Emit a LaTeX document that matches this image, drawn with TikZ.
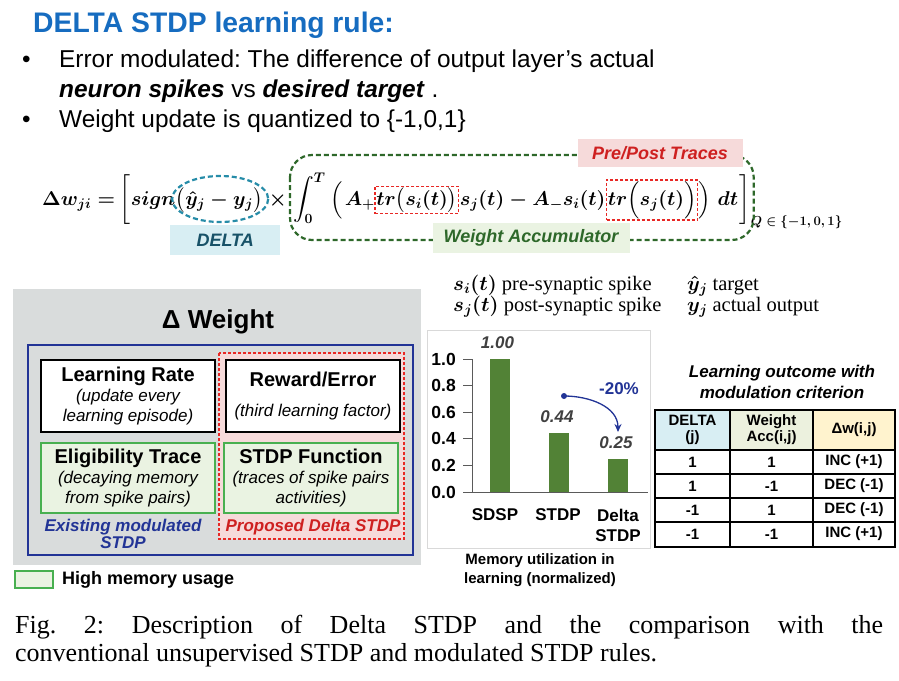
\RequirePackage{fix-cm}
\documentclass[tikz,border=0pt]{standalone}
\usepackage{amsmath}
\usepackage{fontspec}
\setmainfont{Liberation Sans}
\newfontfamily\serifcap{Liberation Serif}
\usetikzlibrary{arrows.meta,positioning,calc,fit}
\definecolor{dsblue}{RGB}{22,108,192}
\definecolor{dsteal}{RGB}{38,140,168}
\definecolor{dsdelta}{RGB}{24,82,104}
\definecolor{dsdeltafill}{RGB}{216,238,243}
\definecolor{dsgreen}{RGB}{46,104,42}
\definecolor{dsgreenfill}{RGB}{234,243,226}
\definecolor{dsred}{RGB}{232,40,36}
\definecolor{dsredtext}{RGB}{206,32,32}
\definecolor{dspink}{RGB}{246,218,218}
\definecolor{dspanel}{RGB}{217,220,220}
\definecolor{dsnavy}{RGB}{34,52,150}
\definecolor{dsmem}{RGB}{72,176,80}
\definecolor{dsbar}{RGB}{82,130,54}
\definecolor{dsaxis}{RGB}{90,90,90}
\definecolor{dsaccfill}{RGB}{236,241,222}
\definecolor{dsdwfill}{RGB}{255,243,206}
\frenchspacing

\begin{document}
\begin{tikzpicture}[x=1pt,y=-1pt,
  eq/.style={anchor=base west, inner sep=0pt, font=\fontsize{20}{24}\selectfont\boldmath},
  tag/.style={inner sep=0pt, font=\fontsize{18}{20}\selectfont\bfseries\itshape},
  line/.style={anchor=base west, inner sep=0pt, font=\fontsize{24.4}{28}\selectfont},
  factor/.style={draw=black, line width=1.8pt, fill=white, minimum width=174pt, minimum height=72pt,
    inner sep=0pt, align=center, font=\fontsize{17}{20}\selectfont\itshape},
  memfactor/.style={factor, draw=dsmem, line width=1.5pt, fill=dsgreenfill, minimum height=70pt},
  tracebox/.style={draw=dsred, line width=1.5pt, dash pattern=on 3pt off 2pt, inner sep=1pt},
  cell/.style={inner sep=0pt, align=center, font=\fontsize{15}{16}\selectfont\bfseries},
  chartlab/.style={inner sep=0pt, align=center, font=\fontsize{17}{20}\selectfont\bfseries},
  serifnote/.style={anchor=base west, inner sep=0pt, font=\serifcap\fontsize{20.5}{22}\selectfont},
]
\useasboundingbox (0,0) rectangle (899,680);

% Heading and bullets
\node[anchor=base west, inner sep=0pt, font=\fontsize{28.3}{32}\selectfont\bfseries, text=dsblue] (head) at (33,32) {DELTA STDP learning rule:};
\node[line] (bul1) at (22,67) {•};
\node[line] (txt1) at (59,67) {Error modulated: The difference of output layer’s actual};
\node[line] (txt2) at (59,97) {\textbf{\textit{neuron spikes}} vs \textbf{\textit{desired target}} .};
\node[line] (bul2) at (22,127) {•};
\node[line] (txt3) at (59,127) {Weight update is quantized to \{-1,0,1\}};

% Equation
\node[eq] (lhs) at (42,205) {$\Delta w_{ji}=$};
\node[eq, base right=4pt of lhs] (lbr) {$\bigg[$};
\node[eq, base right=0pt of lbr] (sgn) {$sign$};
\node[eq, base right=0pt of sgn] (err) {$\bigl(\hat{y}_j-y_j\bigr)$};
\node[eq, base right=6pt of err] (tms) {$\times$};
\node[eq, base right=6pt of tms] (intg) {$\displaystyle\int_0^T$};
\node[eq, base right=4pt of intg] (lpar) {$\Bigl($};
\node[eq, base right=2pt of lpar] (ap) {$A_+$};
\node[eq, base right=1pt of ap] (tri) {$tr\bigl(s_i(t)\bigr)$};
\node[eq, base right=2pt of tri] (mid) {$s_j(t)-A_-s_i(t)$};
\node[eq, base right=2pt of mid] (trj) {$tr\Bigl(s_j(t)\Bigr)$};
\node[eq, base right=2pt of trj] (rpar) {$\Bigr)$};
\node[eq, base right=6pt of rpar] (dt) {$dt$};
\node[eq, base right=1pt of dt] (rbr) {$\bigg]$};
\node[eq, font=\fontsize{13}{15}\selectfont\boldmath] (qset) at ($(rbr.base east)+(0,20)$) {$Q\in\{-1,0,1\}$};

% Equation marks
\coordinate (acctop) at (0,155);
\coordinate (accbot) at (0,240);
\draw[dsgreen, line width=2.2pt, dash pattern=on 5pt off 3pt, rounded corners=22pt]
  ($(intg.west |- acctop)+(-3,0)$) rectangle ($(rbr.east |- accbot)+(3,0)$);
\draw[dsteal, line width=2.2pt, dash pattern=on 5pt off 3pt] ($(err.center)+(1,-1)$) ellipse [x radius=48, y radius=23];
\node[tracebox, fit=(tri)] (tribox) {};
\node[tracebox, fit=(trj)] (trjbox) {};
\node[tag, fill=dsdeltafill, text=dsdelta, minimum width=110pt, minimum height=30pt] (deltatag) at ($(err.center)+(6,40)$) {DELTA};
\node[tag, fill=dsgreenfill, text=dsgreen, minimum width=197pt, minimum height=30pt] (acctag) at (531,238) {Weight Accumulator};
\node[tag, fill=dspink, text=dsredtext, minimum width=165pt, minimum height=28pt] (tracetag) at (660,153) {Pre/Post Traces};

% Notation
\node[serifnote] (lgpre) at (453,290) {$\boldsymbol{s_i(t)}$ pre-synaptic spike};
\node[serifnote] (lgpost) at (453,311) {$\boldsymbol{s_j(t)}$ post-synaptic spike};
\node[serifnote] (lgtarget) at (687,290) {$\boldsymbol{\hat{y}_j}$ target};
\node[serifnote] (lgout) at (687,311) {$\boldsymbol{y_j}$ actual output};

% Delta weight panel
\fill[dspanel] (13,289) rectangle (421,565);
\node[font=\fontsize{26}{28}\selectfont\bfseries] (dwtitle) at (218,322) {Δ Weight};
\draw[dsnavy, line width=1.5pt] (28,345) rectangle (413,555);
\draw[dsred, fill=dspink, line width=1.3pt, dash pattern=on 3pt off 2pt] (219,353) rectangle (404,539);
\node[factor] (lrate) at (128,396) {{\fontsize{20}{22}\selectfont\bfseries\upshape Learning Rate}\\(update every\\learning episode)};
\node[factor] (reward) at (313,396) {{\fontsize{20}{22}\selectfont\bfseries\upshape Reward/Error}\\[10pt](third learning factor)};
\node[memfactor] (elig) at (128,478) {{\fontsize{20}{22}\selectfont\bfseries\upshape Eligibility Trace}\\(decaying memory\\from spike pairs)};
\node[memfactor] (stdpf) at (311,478) {{\fontsize{20}{22}\selectfont\bfseries\upshape STDP Function}\\(traces of spike pairs\\activities)};
\node[align=center, inner sep=0pt, text=dsnavy, font=\fontsize{17}{17}\selectfont\bfseries\itshape] (existing) at (123,534) {Existing modulated\\STDP};
\node[inner sep=0pt, text=dsredtext, font=\fontsize{17}{17}\selectfont\bfseries\itshape] (proposed) at (313,527) {Proposed Delta STDP};
\draw[dsmem, fill=dsgreenfill, line width=1.5pt] (15,571) rectangle (53,588);
\node[anchor=west, inner sep=0pt, font=\fontsize{18}{20}\selectfont\bfseries] (memlegend) at (62,580) {High memory usage};

% Memory chart
\draw[black!15] (427,330) rectangle (650,548);
\foreach \t/\lab in {0/0.0,1/0.2,2/0.4,3/0.6,4/0.8,5/1.0} {
  \draw[dsaxis, line width=1pt] (463,{492-26.6*\t}) -- (472,{492-26.6*\t});
  \node[anchor=east, inner sep=0pt, font=\fontsize{17.5}{18}\selectfont\bfseries] (tick\t) at (456,{492-26.6*\t}) {\lab};
}
\foreach \x/\v/\n in {499.5/1.00/sdsp,559/0.44/stdp,618/0.25/delta} {
  \fill[dsbar] (\x-10,492) rectangle (\x+10,{492-133*\v});
  \node[inner sep=0pt, text=black!75, font=\fontsize{17}{18}\selectfont\bfseries\itshape] (v\n) at (\x-2,{492-133*\v-16.5}) {\v};
}
\draw[dsaxis, line width=1pt] (472,359) -- (472,492) -- (648,492);
\node[chartlab] (csdsp) at (495,515) {SDSP};
\node[chartlab] (cstdp) at (558,515) {STDP};
\node[chartlab] (cdelta) at (618,525) {Delta\\STDP};
\coordinate (dot) at (564,396);
\fill[dsnavy] (dot) circle (3pt);
\draw[dsnavy, line width=1.3pt, -{Stealth[length=8pt,width=7pt]}] (dot) to[out=0, in=90] ($(vdelta.north)+(2,-4)$);
\node[inner sep=0pt, text=dsnavy, font=\fontsize{17}{18}\selectfont\bfseries] (drop) at (619,389) {-20\%};
\node[align=center, inner sep=0pt, font=\fontsize{15}{19}\selectfont\bfseries] (chartcap) at (540,570) {Memory utilization in\\learning (normalized)};

% Outcome table
\node[align=center, inner sep=0pt, font=\fontsize{17}{21}\selectfont\bfseries\itshape] (tabtitle) at (782,382) {Learning outcome with\\modulation criterion};
\fill[dsdeltafill] (655,410) rectangle (730,450);
\fill[dsaccfill] (730,410) rectangle (813,450);
\fill[dsdwfill] (813,410) rectangle (895,450);
\draw[line width=1.2pt] (655,410) rectangle (895,547);
\foreach \x in {730,813} \draw[line width=1.2pt] (\x,410) -- (\x,547);
\foreach \y in {450,474,498,522} \draw[line width=1.2pt] (655,\y) -- (895,\y);
\node[cell] (hdelta) at (692.5,430) {DELTA\\(j)};
\node[cell] (hacc) at (771.5,430) {Weight\\Acc(i,j)};
\node[cell] (hdw) at (854,430) {Δw(i,j)};
\foreach \r/\a/\b/\c in {1/1/1/INC (+1),2/1/-1/DEC (-1),3/-1/1/DEC (-1),4/-1/-1/INC (+1)} {
  \node[cell] (da\r) at (692.5,{438+24*\r}) {\a};
  \node[cell] (ac\r) at (771.5,{438+24*\r}) {\b};
  \node[cell] (dw\r) at (854,{438+24*\r}) {\c};
}

% Caption
\node[anchor=base west, inner sep=0pt, font=\serifcap\fontsize{26}{28}\selectfont] (cap1) at (15,633) {\makebox[868pt][s]{Fig. 2: Description of Delta STDP and the comparison with the}};
\node[anchor=base west, inner sep=0pt, font=\serifcap\fontsize{26}{28}\selectfont] (cap2) at (15,661) {conventional unsupervised STDP and modulated STDP rules.};
\end{tikzpicture}
\end{document}
